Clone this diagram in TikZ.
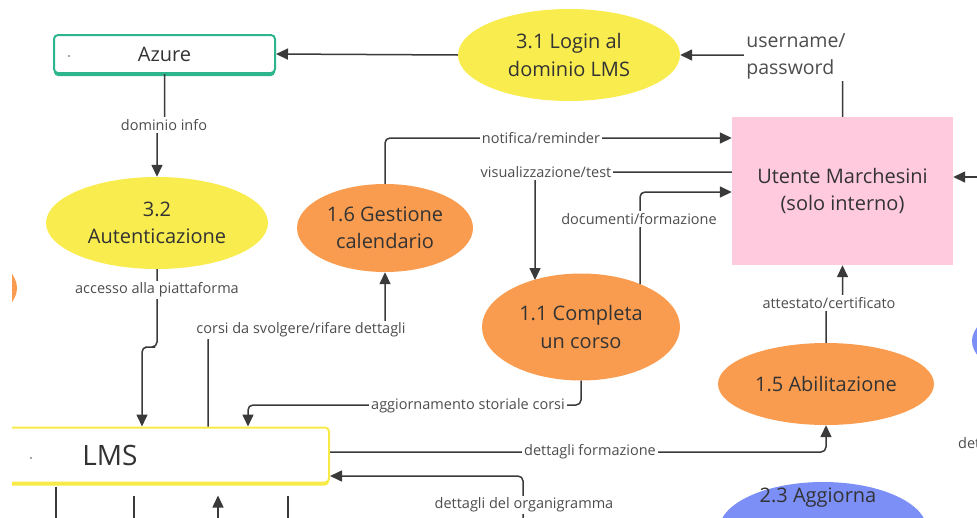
\documentclass[tikz,border=0pt]{standalone}
\usepackage{fontspec}
\setmainfont{Open Sans}
\usetikzlibrary{arrows.meta,shapes.geometric}

\definecolor{ink}{HTML}{333333}
\definecolor{wire}{HTML}{3A3A3A}
\definecolor{labgray}{HTML}{4D4D4D}
\definecolor{procyellow}{HTML}{F8EC4F}
\definecolor{procorange}{HTML}{FA9C4F}
\definecolor{procblue}{HTML}{7B8FF7}
\definecolor{userpink}{HTML}{FFC9DE}
\definecolor{azteal}{HTML}{2DB58E}
\definecolor{lmsyellow}{HTML}{F9EB47}

\begin{document}
\begin{tikzpicture}[x=1pt,y=-1pt,
  main/.style={text=ink, font=\fontsize{20}{27.5}\selectfont, align=center},
  proc/.style={main, ellipse, inner sep=0pt},
  store/.style={main, fill=white, draw=#1, line width=2pt, rounded corners=4pt,
    preaction={fill=#1, transform canvas={yshift=-3pt}}},
  line/.style={draw=wire, line width=1.5pt, rounded corners=5pt},
  flow/.style={line, -{Triangle[length=12pt,width=11pt]}},
  lab/.style={fill=white, text=labgray, font=\fontsize{14.5}{18}\selectfont, inner sep=2pt}]
  \useasboundingbox (0,0) rectangle (977,517);
  \begin{scope}
  \clip (12,0) rectangle (977,517);
  % data stores and the external entity
  \node[store=azteal, minimum width=221pt, minimum height=38pt] (azure) at (164.5,54) {Azure};
  \node[store=lmsyellow, minimum width=438pt, minimum height=55pt,
    font=\fontsize{28}{32}\selectfont] (lms) at (110,455) {LMS};
  \node[main, fill=userpink, minimum width=221pt, minimum height=148pt] (utente) at (842.5,191)
    {Utente Marchesini\\(solo interno)};
  \fill[labgray] (69,56) circle (0.8pt) (31,458) circle (0.8pt);
  % processes
  \node[proc, fill=procyellow, minimum width=222pt, minimum height=92pt] (login) at (569,55)
    {3.1 Login al\\dominio LMS};
  \node[proc, fill=procyellow, minimum width=222pt, minimum height=92pt] (auth) at (157,223)
    {3.2\\Autenticazione};
  \node[proc, fill=procorange, minimum width=176pt, minimum height=88pt] (cal) at (385,228)
    {1.6 Gestione\\calendario};
  \node[proc, fill=procorange, minimum width=198pt, minimum height=107pt] (corso) at (581,327)
    {1.1 Completa\\un corso};
  \node[proc, fill=procorange, minimum width=216pt, minimum height=82pt] (abil) at (826,384)
    {1.5 Abilitazione};
  \node[proc, fill=procblue, minimum width=208pt, minimum height=96pt] (aggiorna) at (823,530) {};
  \node[main] (aggtxt) at (818,498) {2.3 Aggiorna};
  % neighbours cut by the frame
  \node[proc, fill=procorange, minimum width=200pt, minimum height=90pt] (leftproc) at (-83,288) {};
  \node[proc, fill=procblue, minimum width=210pt, minimum height=90pt] (rightproc) at (1077,341) {};

  % free ends
  \coordinate (corsoin) at (535,280);
  \coordinate (corsoout) at (640,284);
  \coordinate (orgsrc) at (523,540);

  % flows
  \draw[flow] (login.west) -- (azure.east);
  \draw[flow] (utente.north) |- (login.east);
  \draw[flow] (azure.south) |- (160,125) -| (auth.north);
  \draw[flow] (auth.south) |- (150,347) -| (lms.north -| 142,0);
  \draw[flow] (cal.north) |- (utente.west |- 0,138);
  \draw[flow] (utente.west |- 0,172) -| (corsoin);
  \draw[flow] (corsoout) |- (utente.west |- 0,192);
  \draw[flow] (lms.north -| 208,0) |- (300,330) -| (cal.south);
  \draw[flow] (corso.south) |- (400,405) -| (lms.north -| 248,0);
  \draw[flow] (lms.east |- 0,452) -| (abil.south);
  \draw[flow] (orgsrc) |- (lms.east |- 0,476);
  \draw[flow] (abil.north) |- (834,303) -| (utente.south);
  \draw[flow] (990,177) -- (utente.east |- 0,177);
  % flows leaving below
  \draw[line, shorten <=3pt] (lms.south -| 56,0) -- (56,530);
  \draw[line, shorten <=12pt] (lms.south -| 134,0) -- (134,530);
  \draw[flow, shorten >=12pt] (218,530) -- (lms.south -| 218,0);
  \draw[line, shorten <=12pt] (lms.south -| 288,0) -- (288,530);

  % labels
  \node[lab, text=labgray, font=\fontsize{19.5}{27}\selectfont, align=left] (userpw) at (796,56)
    {username/\\password};
  \node[lab] (dominfo) at (164,125) {dominio info};
  \node[lab] (accesso) at (157,290) {accesso alla piattaforma};
  \node[lab] (notifica) at (541,138) {notifica/reminder};
  \node[lab] (visual) at (546,172) {visualizzazione/test};
  \node[lab] (docform) at (639,219) {documenti/formazione};
  \node[lab] (corsisv) at (301,330) {corsi da svolgere/rifare dettagli};
  \node[lab] (storiale) at (468,406) {aggiornamento storiale corsi};
  \node[lab] (dettform) at (590,452) {dettagli formazione};
  \node[lab] (organi) at (524,505) {dettagli del organigramma};
  \node[lab] (attestato) at (829,303) {attestato/certificato};
  \node[lab, anchor=west] (dettright) at (956,445) {dettagli};
  \end{scope}
\end{tikzpicture}
\end{document}
